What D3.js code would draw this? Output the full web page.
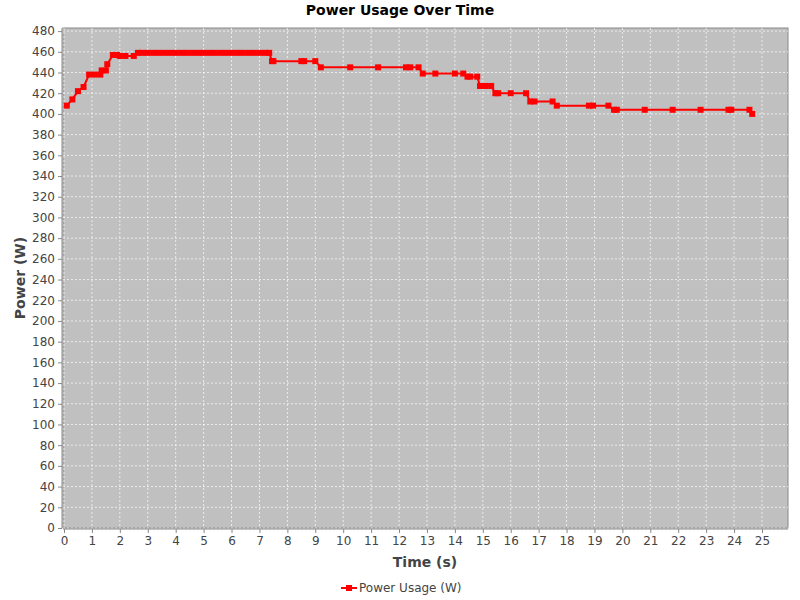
<!DOCTYPE html><html><head><script src="https://cdn.jsdelivr.net/npm/d3@7"></script>
<style>body{margin:0;background:#fff}text{font-family:"DejaVu Sans",sans-serif}</style></head><body><svg id="c" width="800" height="600"></svg>
<script>
const times=[0.1,0.3,0.5,0.7,0.9,1.1,1.3,1.35,1.5,1.55,1.75,1.9,2.0,2.2,2.5,2.65,2.8,3.0,3.2,3.4,3.6,3.8,4.0,4.2,4.4,4.6,4.8,5.0,5.2,5.4,5.6,5.8,6.0,6.2,6.4,6.6,6.8,7.0,7.2,7.35,7.45,7.5,8.5,8.6,9.0,9.2,10.25,11.25,12.25,12.4,12.7,12.85,13.3,14.0,14.3,14.45,14.55,14.8,14.9,15.1,15.3,15.45,15.55,16.0,16.55,16.7,16.85,17.5,17.65,18.8,18.95,19.5,19.7,19.8,20.8,21.8,22.8,23.8,23.9,24.55,24.65];
const power=[408,414,422,426,438,438,438,442,442,448,457,457,456,456,456,459,459,459,459,459,459,459,459,459,459,459,459,459,459,459,459,459,459,459,459,459,459,459,459,459,451,451,451,451,451,445,445,445,445,445,445,439,439,439,439,436,436,436,427,427,427,420,420,420,420,412,412,412,408,408,408,408,404,404,404,404,404,404,404,404,400];
const xTicks=d3.range(0,26,1), yTicks=d3.range(0,481,20);
const L=63,R=788,T=28,B=528;
const svg=d3.select("#c");
const x=d3.scaleLinear().domain([0,26]).range([L+1,L+1+26*27.92]);
const y=d3.scaleLinear().domain([0,483]).range([B,T]);
svg.append("rect").attr("x",L).attr("y",T).attr("width",R-L).attr("height",B-T).attr("fill","#c0c0c0").attr("stroke","#888");
const g=svg.append("g");
xTicks.forEach(t=>g.append("line").attr("x1",x(t)).attr("x2",x(t)).attr("y1",T).attr("y2",B).attr("stroke","#fff").attr("stroke-dasharray","2,2").attr("stroke-width",0.7));
yTicks.forEach(t=>g.append("line").attr("y1",y(t)).attr("y2",y(t)).attr("x1",L).attr("x2",R).attr("stroke","#fff").attr("stroke-dasharray","2,2").attr("stroke-width",0.7));
const xa=svg.append("g").attr("transform",`translate(0,${B+1})`).call(d3.axisBottom(x).tickValues(xTicks).tickSize(4).tickFormat(d3.format("d")));
const ya=svg.append("g").attr("transform",`translate(${L-1},0)`).call(d3.axisLeft(y).tickValues(yTicks).tickSize(4));
[xa,ya].forEach(a=>{a.selectAll("text").attr("font-size",12).attr("fill","#444");a.selectAll("line,path").attr("stroke","#888");});
xa.select(".domain").attr("d",`M${L},0H${R}`);ya.select(".domain").attr("d",`M0,${T}V${B}`);
const pts=times.map((t,i)=>[t,power[i]]);
svg.append("path").attr("d",d3.line().x(d=>x(d[0])).y(d=>y(d[1]))(pts)).attr("fill","none").attr("stroke","#f00").attr("stroke-width",2);
svg.selectAll(".m").data(pts).enter().append("rect").attr("x",d=>x(d[0])-3).attr("y",d=>y(d[1])-3).attr("width",6).attr("height",6).attr("fill","#f00");
svg.append("text").attr("x",400).attr("y",15).attr("text-anchor","middle").attr("font-size",14).attr("font-weight","bold").text("Power Usage Over Time");
svg.append("text").attr("x",425).attr("y",567).attr("text-anchor","middle").attr("font-size",14).attr("font-weight","bold").attr("fill","#444").text("Time (s)");
svg.append("text").attr("transform","translate(25,278) rotate(-90)").attr("text-anchor","middle").attr("font-size",14).attr("font-weight","bold").attr("fill","#444").text("Power (W)");
svg.append("line").attr("x1",341).attr("x2",357).attr("y1",588).attr("y2",588).attr("stroke","#f00").attr("stroke-width",2);
svg.append("rect").attr("x",346).attr("y",585).attr("width",6).attr("height",6).attr("fill","#f00");
svg.append("text").attr("x",359).attr("y",592).attr("font-size",12).attr("fill","#444").text("Power Usage (W)");
</script></body></html>
